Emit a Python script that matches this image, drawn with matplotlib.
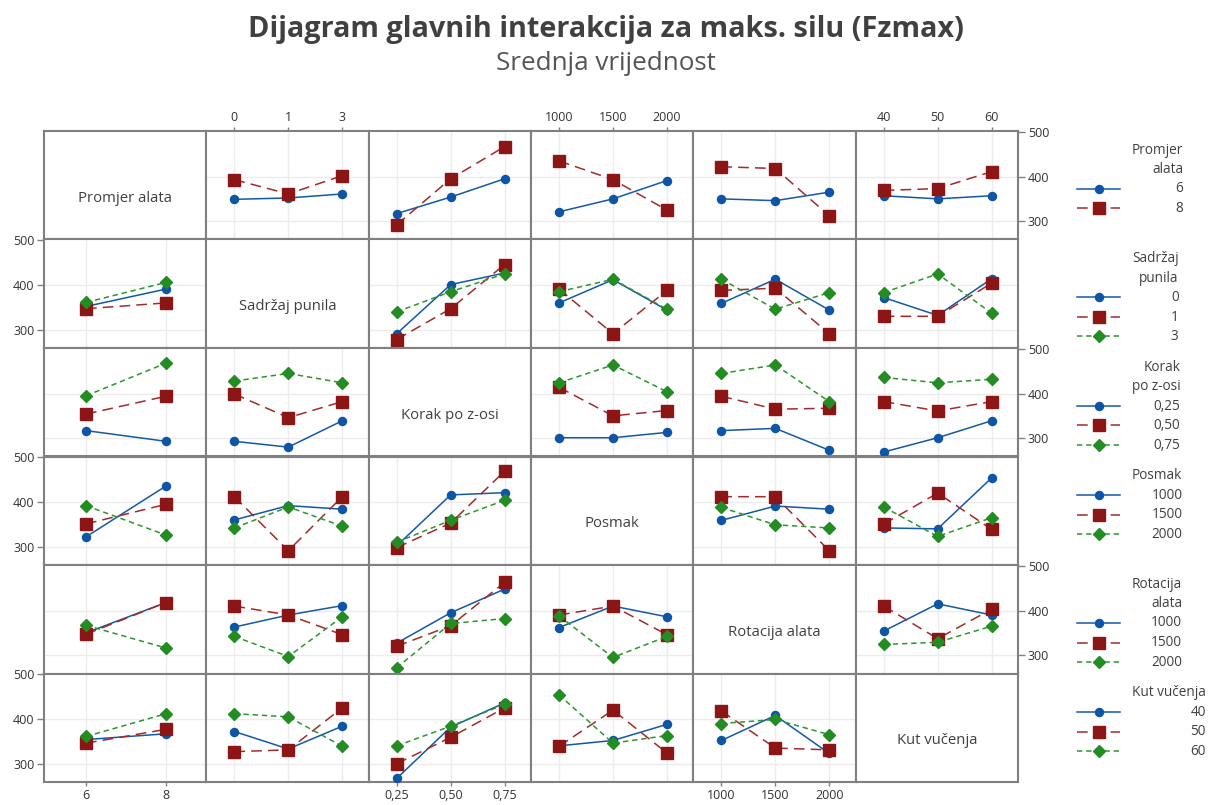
import numpy as np
import matplotlib
matplotlib.use('Agg')
import matplotlib.pyplot as plt
from matplotlib.lines import Line2D

plt.rcParams['font.family'] = ['Open Sans', 'DejaVu Sans']

#%% data (srednje vrijednosti Fzmax ocitane s dijagrama)
faktori = ['Promjer alata', 'Sadržaj punila', 'Korak po z-osi', 'Posmak', 'Rotacija alata', 'Kut vučenja']
legenda_naslovi = ['Promjer\nalata', 'Sadržaj\npunila', 'Korak\npo z-osi', 'Posmak', 'Rotacija\nalata', 'Kut vučenja']

promjer = ['6', '8']
punila = ['0', '1', '3']
korak = ['0,25', '0,50', '0,75']
posmak = ['1000', '1500', '2000']
rotacija = ['1000', '1500', '2000']
kut = ['40', '50', '60']
razine = [promjer, punila, korak, posmak, rotacija, kut]

# redak = faktor koji daje linije, indeks liste = faktor na x osi
m_promjer = [None,
             [[349, 352, 361], [393, 361, 402]],
             [[317, 354, 395], [292, 395, 467]],
             [[321, 350, 391], [435, 393, 325]],
             [[350, 346, 365], [422, 418, 312]],
             [[357, 350, 357], [369, 373, 411]]]

m_punila = [[[352, 391], [347, 360], [361, 406]],
            None,
            [[291, 401, 427], [278, 347, 446], [340, 385, 425]],
            [[360, 412, 344], [391, 291, 388], [385, 413, 346]],
            [[359, 413, 344], [388, 393, 291], [413, 346, 383]],
            [[372, 332, 414], [330, 330, 404], [383, 425, 337]]]

m_korak = [[[317, 293], [354, 394], [395, 468]],
           [[293, 280, 339], [399, 346, 382], [428, 445, 424]],
           None,
           [[301, 301, 313], [414, 350, 362], [424, 464, 404]],
           [[317, 322, 273], [394, 365, 367], [445, 464, 382]],
           [[269, 301, 339], [382, 361, 382], [436, 424, 432]]]

m_posmak = [[[322, 436], [351, 395], [392, 326]],
            [[360, 392, 384], [412, 291, 412], [342, 389, 346]],
            [[302, 416, 421], [298, 353, 469], [310, 359, 404]],
            None,
            [[359, 391, 384], [412, 412, 291], [388, 349, 342]],
            [[342, 340, 454], [351, 420, 339], [389, 323, 365]]]

m_rotacija = [[[350, 418], [347, 418], [367, 316]],
              [[363, 390, 411], [410, 390, 346], [342, 297, 386]],
              [[327, 395, 448], [320, 366, 463], [272, 371, 382]],
              [[362, 410, 386], [390, 410, 346], [388, 295, 342]],
              None,
              [[354, 415, 390], [410, 337, 403], [324, 329, 365]]]

m_kut = [[[354, 367], [346, 377], [361, 412]],
         [[372, 333, 384], [327, 331, 425], [412, 405, 339]],
         [[267, 382, 436], [300, 359, 425], [340, 384, 433]],
         [[340, 352, 388], [339, 420, 324], [454, 346, 363]],
         [[352, 408, 323], [418, 335, 331], [390, 399, 365]],
         None]

srednje = [m_promjer, m_punila, m_korak, m_posmak, m_rotacija, m_kut]
y_ticks = [300, 400, 500]

#%% stil
stilovi = [dict(color='#1259a8', ls='-', marker='o', ms=5.8, mfc='#0f55a5', mec='#0f55a5'),
           dict(color='#a32a2a', ls=(0, (7, 4)), marker='s', ms=8.5, mfc='#8c1515', mec='#8c1515'),
           dict(color='#2c962c', ls=(0, (3.5, 2.5)), marker='D', ms=6.3, mfc='#238c23', mec='#238c23')]
rub = '#808080'
mreza = '#ececec'
tekst = '#404040'

W, H = 1212, 805
lijevo, desno, vrh, dno = 44, 1018, 131, 782
n = 6
cw = (desno - lijevo) / n
ch = (dno - vrh) / n

fig = plt.figure(figsize=(W / 100, H / 100), dpi=100)

for i in range(n):
    for j in range(n):
        x0 = lijevo + j * cw
        y0 = vrh + i * ch
        ax = fig.add_axes([x0 / W, 1 - (y0 + ch) / H, cw / W, ch / H])
        nx = len(razine[j])
        xs = np.arange(nx)
        if nx == 2:
            ax.set_xlim(-0.525, 1.504)
        else:
            ax.set_xlim(-0.52, 2.49)
        ax.set_ylim(259, 502)
        for s in ax.spines.values():
            s.set_color(rub)
            s.set_linewidth(1.5)
        ax.tick_params(axis='both', which='both', length=0, labelsize=9,
                       labelcolor='#333333', color=rub, width=1,
                       bottom=False, top=False, left=False, right=False,
                       labelbottom=False, labeltop=False, labelleft=False, labelright=False)
        ax.set_xticks(xs)
        ax.set_xticklabels(razine[j])
        ax.set_yticks(y_ticks)

        if i == j:
            ax.text(0.5, 0.38, faktori[i], transform=ax.transAxes, ha='center', va='center',
                    fontsize=10.7, color=tekst)
            ax.set_xticks([])
            ax.set_yticks([])
        else:
            for x in xs:
                ax.axvline(x, color=mreza, lw=1, zorder=0)
            for y in [300, 400]:
                ax.axhline(y, color=mreza, lw=1, zorder=0)
            vrijednosti = srednje[i][j]
            for k, v in enumerate(vrijednosti):
                st = stilovi[k]
                ax.plot(xs, v, color=st['color'], ls=st['ls'], lw=1.1, marker=st['marker'],
                        ms=st['ms'], mfc=st['mfc'], mec=st['mec'], zorder=3)

        # osi na rubovima kao u Minitabu
        if i == 0 and j % 2 == 1:
            ax.tick_params(axis='x', top=True, labeltop=True, length=3, pad=2)
        if i == n - 1 and j % 2 == 0:
            ax.tick_params(axis='x', bottom=True, labelbottom=True, length=3, pad=2)
        if j == n - 1 and i % 2 == 0:
            ax.set_yticks(y_ticks)
            ax.tick_params(axis='y', right=True, labelright=True, length=5, pad=2)
        if j == 0 and i % 2 == 1:
            ax.set_yticks(y_ticks)
            ax.tick_params(axis='y', left=True, labelleft=True, length=5, pad=2)

#%% legende desno
renderer = fig.canvas.get_renderer()
leg_x0, leg_x1, txt_x0 = 1077, 1120, 1132
korak_leg = 19.5
for i in range(n):
    linije = legenda_naslovi[i].split('\n')
    sirina = 0
    for ln in linije:
        t = fig.text(0, 0, ln, fontsize=9.8, color=tekst)
        sirina = max(sirina, t.get_window_extent(renderer).width)
        t.remove()
    x_desno = txt_x0 + sirina
    y = vrh + i * ch + 19
    for ln in linije:
        fig.text(x_desno / W, 1 - y / H, ln, ha='right', va='center', fontsize=9.8, color=tekst)
        y += korak_leg
    for k, lev in enumerate(razine[i]):
        st = stilovi[k]
        yy = 1 - y / H
        fig.add_artist(Line2D([leg_x0 / W, (leg_x0 + leg_x1) / 2 / W, leg_x1 / W], [yy, yy, yy],
                              transform=fig.transFigure, color=st['color'], ls=st['ls'], lw=1.1,
                              marker=st['marker'], ms=st['ms'], mfc=st['mfc'], mec=st['mec'],
                              markevery=[1]))
        fig.text(x_desno / W, yy, lev, ha='right', va='center', fontsize=9.8, color=tekst)
        y += korak_leg

fig.text(0.5, 1 - 30 / H, 'Dijagram glavnih interakcija za maks. silu (Fzmax)', ha='center', va='center',
         fontsize=20.8, fontweight='bold', color=tekst)
fig.text(0.5, 1 - 63 / H, 'Srednja vrijednost', ha='center', va='center', fontsize=18.7, color='#555555')

fig.savefig('out.png', dpi=100)
